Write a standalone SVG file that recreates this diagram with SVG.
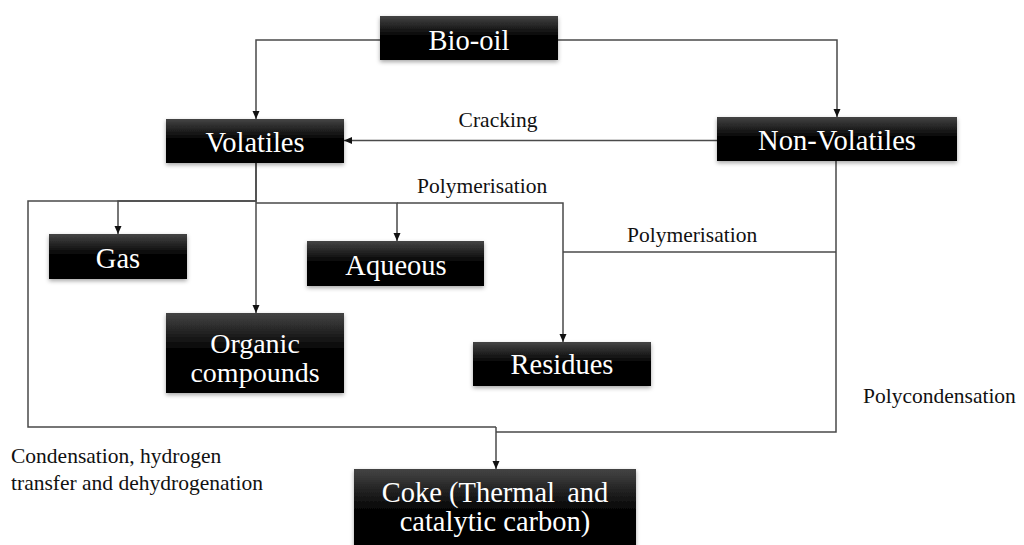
<svg xmlns="http://www.w3.org/2000/svg" width="1024" height="545" viewBox="0 0 1024 545">
  <defs>
    <linearGradient id="boxFill" x1="0" y1="0" x2="0" y2="1">
      <stop offset="0" stop-color="#444"/>
      <stop offset="0.45" stop-color="#050505"/>
      <stop offset="1" stop-color="#000"/>
    </linearGradient>
    <filter id="shadow" x="-10%" y="-20%" width="120%" height="150%">
      <feDropShadow dx="0" dy="2" stdDeviation="2" flood-color="#000" flood-opacity="0.35"/>
    </filter>
    <marker id="arrow" markerWidth="8" markerHeight="8" refX="8" refY="4" orient="auto" markerUnits="userSpaceOnUse">
      <path d="M0,0.5 L8,4 L0,7.5 Z" fill="#111"/>
    </marker>
    <style>
      text { font-family: 'Liberation Serif', 'DejaVu Serif', serif; }
      .box { fill: url(#boxFill); filter: url(#shadow); }
      .node-text { font-size: 28.5px; fill: #fff; text-anchor: middle; }
      .label { font-size: 21.5px; fill: #111; }
      .link { fill: none; stroke: #4a4a4a; stroke-width: 1.5; }
      .arrowed { marker-end: url(#arrow); }
    </style>
  </defs>

  <rect width="1024" height="545" fill="#fff"/>

  <!-- connectors -->
  <g id="connectors">
    <path class="link arrowed" d="M380,40 H256 V119"/>
    <path class="link arrowed" d="M558,40 H837 V117"/>
    <path class="link arrowed" d="M717,140.5 H344"/>
    <path class="link" d="M256,163 V201 H28 V427 H496"/>
    <path class="link arrowed" d="M256,201 H118 V234"/>
    <path class="link arrowed" d="M256,163 V313"/>
    <path class="link arrowed" d="M256,203 H397 V241"/>
    <path class="link arrowed" d="M397,203 H563 V342"/>
    <path class="link" d="M836,161 V432 H496"/>
    <path class="link" d="M836,252 H563"/>
    <path class="link arrowed" d="M496,427 V469"/>
  </g>

  <!-- process labels -->
  <g id="labels">
    <text class="label" x="498" y="127" text-anchor="middle">Cracking</text>
    <text class="label" x="417" y="193">Polymerisation</text>
    <text class="label" x="627" y="242">Polymerisation</text>
    <text class="label" x="863" y="403">Polycondensation</text>
    <text class="label" x="11" y="463">Condensation, hydrogen</text>
    <text class="label" x="11" y="490">transfer and dehydrogenation</text>
  </g>

  <!-- nodes -->
  <g id="bio-oil">
    <rect class="box" x="380" y="16" width="178" height="44"/>
    <text class="node-text" x="469" y="50">Bio-oil</text>
  </g>
  <g id="volatiles">
    <rect class="box" x="166" y="119" width="178" height="44"/>
    <text class="node-text" x="255" y="152">Volatiles</text>
  </g>
  <g id="non-volatiles">
    <rect class="box" x="717" y="117" width="240" height="44"/>
    <text class="node-text" x="837" y="150">Non-Volatiles</text>
  </g>
  <g id="gas">
    <rect class="box" x="49" y="234" width="138" height="45"/>
    <text class="node-text" x="118" y="268">Gas</text>
  </g>
  <g id="aqueous">
    <rect class="box" x="307" y="241" width="177" height="45"/>
    <text class="node-text" x="396" y="275">Aqueous</text>
  </g>
  <g id="organic-compounds">
    <rect class="box" x="166" y="313" width="178" height="80"/>
    <text class="node-text" x="255" y="353" style="font-size:28px">Organic</text>
    <text class="node-text" x="255" y="382" style="font-size:28px">compounds</text>
  </g>
  <g id="residues">
    <rect class="box" x="473" y="342" width="178" height="44"/>
    <text class="node-text" x="562" y="374">Residues</text>
  </g>
  <g id="coke">
    <rect class="box" x="354" y="469" width="282" height="90"/>
    <text class="node-text" x="495" y="502">Coke (Thermal <tspan dx="5">and</tspan></text>
    <text class="node-text" x="495" y="531">catalytic carbon)</text>
  </g>
</svg>
